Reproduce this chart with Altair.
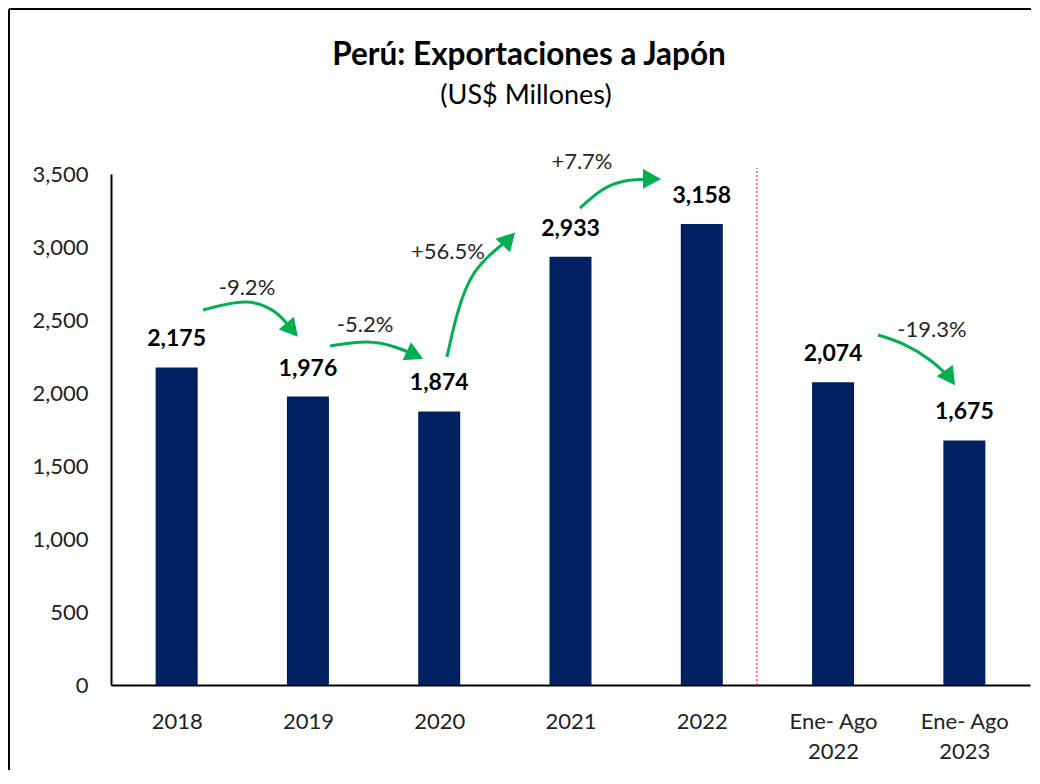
import json
import altair as alt
import pandas as pd

# ---------------- data ----------------
title_text = "Perú: Exportaciones a Japón"
subtitle_text = "(US$ Millones)"

categories = ["2018", "2019", "2020", "2021", "2022", "Ene- Ago\n2022", "Ene- Ago\n2023"]
values = [2175, 1976, 1874, 2933, 3158, 2074, 1675]

# growth annotations (curved arrows), in data coordinates (x: category slot, y: US$ millions)
arrow_labels = ["-9.2%", "-5.2%", "+56.5%", "+7.7%", "-19.3%"]
arrow_label_x = [1.036, 1.935, 2.567, 3.587, 6.253]
arrow_label_y = [2719, 2466, 2966, 3582, 2431]
arrow_paths = [
    [(0.701, 2568), (1.021, 2623), (1.249, 2555), (1.379, 2432)],
    [(1.668, 2322), (1.950, 2349), (2.163, 2315), (2.315, 2260)],
    [(2.559, 2247), (2.635, 2534), (2.772, 2829), (3.031, 3055)],
    [(3.572, 3267), (3.740, 3390), (3.915, 3452), (4.121, 3466)],
    [(5.842, 2397), (6.032, 2336), (6.238, 2226), (6.390, 2103)],
]
arrow_head_angle = [50, 25, 313, 0, 55]

divider_x = [4.92]

# ---------------- tables ----------------
bars = pd.DataFrame({
    "cat": categories,
    "value": values,
    "pos": [i + 0.5 for i in range(len(categories))],
})

line_rows, head_rows = [], []
for k, path in enumerate(arrow_paths):
    for s, (px, py) in enumerate(path):
        line_rows.append({"arrow": k, "seq": s, "x": px, "y": py})
    head_rows.append({"arrow": k, "x": path[-1][0], "y": path[-1][1], "angle": arrow_head_angle[k]})
lines_df = pd.DataFrame(line_rows)
heads_df = pd.DataFrame(head_rows)
labels_df = pd.DataFrame({"label": arrow_labels, "x": arrow_label_x, "y": arrow_label_y})
divider_df = pd.DataFrame({"x": divider_x})
one = pd.DataFrame({"b": [0]})

# ---------------- style ----------------
FONT = "Lato"
NAVY = "#002060"
GREEN = "#00B050"
TXT = "#222222"

xscale = alt.Scale(domain=[0, len(categories)], nice=False, zero=False)
yscale = alt.Scale(domain=[0, 3500], nice=False)

cat_js = json.dumps([c.replace("\n", "|") for c in categories]).replace('"', "'")

x_axis = alt.Axis(
    values=[i + 0.5 for i in range(len(categories))],
    labelExpr=f"split({cat_js}[round(datum.value - 0.5)], '|')",
    ticks=False, tickSize=0, grid=False, title=None,
    domainColor="#000000", domainWidth=2,
    labelFont=FONT, labelFontSize=22, labelColor=TXT,
    labelPadding=26, labelLineHeight=30, labelBaseline="top",
)
y_axis = alt.Axis(
    values=list(range(0, 3501, 500)),
    labelExpr="format(datum.value, ',')",
    ticks=False, tickSize=0, grid=False, title=None,
    domainColor="#000000", domainWidth=2,
    labelFont=FONT, labelFontSize=22, labelColor=TXT, labelPadding=23,
)


def X(field):
    return alt.X(field, scale=xscale, axis=x_axis)


def Y(field):
    return alt.Y(field, scale=yscale, axis=y_axis)


bar_layer = alt.Chart(bars).transform_calculate(
    x0="datum.pos - 0.16", x1="datum.pos + 0.16", base="0"
).mark_bar(color=NAVY).encode(
    x=X("x0:Q"),
    x2="x1:Q",
    y=Y("value:Q"),
    y2="base:Q",
)

bar_text = alt.Chart(bars).mark_text(
    font=FONT, fontSize=23, fontWeight="bold", color="#000000",
    baseline="alphabetic", dy=-21,
).encode(
    x=X("pos:Q"),
    y=Y("value:Q"),
    text=alt.Text("value:Q", format=","),
)

divider = alt.Chart(divider_df).mark_rule(
    color="#FF0000", strokeDash=[2, 2], strokeWidth=1, clip=False
).encode(
    x=X("x:Q"),
    y=alt.value(511),
    y2=alt.value(-6),
)

arrow_lines = alt.Chart(lines_df).mark_line(
    interpolate="natural", color=GREEN, strokeWidth=3, clip=False
).encode(
    x=X("x:Q"),
    y=Y("y:Q"),
    detail="arrow:N",
    order="seq:Q",
)

arrow_heads = alt.Chart(heads_df).mark_point(
    shape="M-1,-1.1L1,0L-1,1.1Z", filled=True, size=324, color=GREEN,
    opacity=1, strokeWidth=0, clip=False,
).encode(
    x=X("x:Q"),
    y=Y("y:Q"),
    angle=alt.Angle("angle:Q", scale=None),
)

arrow_text = alt.Chart(labels_df).mark_text(
    font=FONT, fontSize=22, color="#262626", baseline="middle", align="center"
).encode(
    x=X("x:Q"),
    y=Y("y:Q"),
    text="label:N",
)

# chart-area frame (top and left edges are visible in the reference)
frame_top = alt.Chart(one).mark_rule(color="#000000", strokeWidth=2, clip=False).encode(
    x=alt.value(-102), x2=alt.value(920), y=alt.value(-165)
)
frame_left = alt.Chart(one).mark_rule(color="#000000", strokeWidth=2, clip=False).encode(
    x=alt.value(-102), y=alt.value(-165), y2=alt.value(596)
)

title_mark = alt.Chart(one).transform_calculate(t=f"'{title_text}'").mark_text(
    font=FONT, fontSize=31.5, fontWeight="bold", color="#000000",
    align="center", baseline="alphabetic",
).encode(x=alt.value(418), y=alt.value(-109), text="t:N")

subtitle_mark = alt.Chart(one).transform_calculate(t=f"'{subtitle_text}'").mark_text(
    font=FONT, fontSize=27, color="#000000", align="center", baseline="alphabetic",
).encode(x=alt.value(415), y=alt.value(-70), text="t:N")

chart = alt.layer(
    bar_layer, bar_text, divider, arrow_lines, arrow_heads, arrow_text,
    frame_top, frame_left, title_mark, subtitle_mark,
).properties(
    width=919,
    height=511,
    background="#ffffff",
    autosize=alt.AutoSizeParams(type="none"),
    padding={"left": 103, "top": 166, "right": 2, "bottom": 85},
).configure_view(stroke="transparent", strokeWidth=0)

chart.save("out.html", embed_options={"renderer": "svg", "actions": False})
